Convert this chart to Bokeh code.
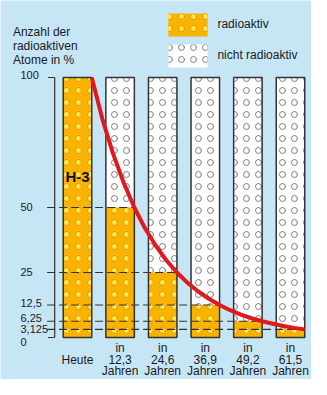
from bokeh.plotting import figure
from bokeh.models import Range1d, Legend, LegendItem, ColumnDataSource
from bokeh.core.properties import value
from bokeh.embed import file_html
from bokeh.resources import INLINE

# ---------------- data ----------------
bar_labels = ["Heute", "in\n12,3\nJahren", "in\n24,6\nJahren",
              "in\n36,9\nJahren", "in\n49,2\nJahren", "in\n61,5\nJahren"]
years = [0, 12.3, 24.6, 36.9, 49.2, 61.5]
radioactive_pct = [100, 50, 25, 12.5, 6.25, 3.125]
total_pct = [100, 100, 100, 100, 100, 100]
half_life = 12.3

y_ticks = [0, 3.125, 6.25, 12.5, 25, 50, 100]
y_tick_labels = ["0", "3,125", "6,25", "12,5", "25", "50", "100"]

# decay curve (years, % radioactive)
curve_years = [0, 3.075, 6.15, 9.225, 12.3, 15.375, 18.45, 21.525, 24.6, 27.675,
               30.75, 33.825, 36.9, 39.975, 43.05, 46.125, 49.2, 52.275, 55.35,
               58.425, 61.5]
curve_pct = [100, 84, 70.7, 59.5, 50, 42, 35.4, 29.7, 25, 21, 17.7, 14.9, 12.5,
             10.5, 8.8, 7.4, 6.25, 5.3, 4.4, 3.7, 3.125]

isotope = "H-3"
y_title = ["Anzahl der", "radioaktiven", "Atome in %"]
legend_labels = ["radioaktiv", "nicht radioaktiv"]

# ---------------- layout / style ----------------
W, H = 311, 379
PX_X = 42.6      # pixels per bar slot
X0_PX = 77       # pixel x of first bar centre
PX_Y = 2.60      # pixels per percent
Y0_PX = 337.0    # pixel y (from top) of 0 %
BAR_W = 28.5 / PX_X

def dx(px):
    return (px - X0_PX) / PX_X

def dy(py):
    return (Y0_PX - py) / PX_Y

BG = "#c6e6f6"
ORANGE = "#f8b400"
DOT = "#ffec3d"
RING = "#f08a1e"
GREY_RING = "#7a7a7a"
OUTLINE = "#333333"
RED = "#e3171e"
TXT = "#1a1a1a"
FONT_NAME = "Liberation Sans"
FONT = value(FONT_NAME)
HATCH_SCALE = 12

label_nudge = [4, 0, -3, -2, -1, -1, -3]   # px nudges of y labels
XLAB_LINE = 11.6                          # px between lines of x labels
XLAB_BASE = 10.5                          # px from 0-line to first baseline
TITLE_BASE = 31.5
TITLE_LINE = 14.0

p = figure(width=W, height=H, output_backend="svg", toolbar_location=None,
           x_range=Range1d(dx(0), dx(W)), y_range=Range1d(dy(H), dy(0)),
           min_border=0, min_border_left=0, min_border_right=0,
           min_border_top=0, min_border_bottom=0)
p.axis.visible = False
p.grid.visible = False
p.outline_line_color = None
p.background_fill_color = BG
p.border_fill_color = BG

xs = list(range(len(bar_labels)))
src = ColumnDataSource(dict(x=xs, total=total_pct, radio=radioactive_pct))

# white (non radioactive) bars
white = p.vbar(x="x", top="total", bottom=0, width=BAR_W, source=src,
               fill_color="white", line_color=None,
               hatch_pattern="ring", hatch_color=GREY_RING, hatch_scale=HATCH_SCALE,
               hatch_weight=1)
# radioactive part
yfill = p.vbar(x="x", top="radio", bottom=0, width=BAR_W, source=src,
               fill_color=ORANGE, line_color=None,
               hatch_pattern="dot", hatch_color=DOT, hatch_scale=HATCH_SCALE)
yring = p.vbar(x="x", top="radio", bottom=0, width=BAR_W, source=src,
               fill_color=None, line_color=None,
               hatch_pattern="ring", hatch_color=RING, hatch_scale=HATCH_SCALE,
               hatch_weight=1)
# outlines
p.vbar(x="x", top="total", bottom=0, width=BAR_W, source=src,
       fill_color=None, line_color=OUTLINE, line_width=1.5)
legend_outline = p.vbar(x=[], top=[], bottom=0, width=BAR_W,
                        fill_color=None, line_color=OUTLINE, line_width=1.5)

# dashed guide lines from the axis to each halved bar
x_dash_start = dx(46.6)
lvl_x1 = [k + BAR_W / 2 for k in xs[1:]]
p.segment(x0=[x_dash_start] * len(lvl_x1), y0=radioactive_pct[1:],
          x1=lvl_x1, y1=radioactive_pct[1:],
          line_color=OUTLINE, line_width=1.2, line_dash="8 4")

# axis bracket
x_axis = dx(54.2)
x_tick = dx(47.5)
p.segment(x0=[x_axis], y0=[0], x1=[x_axis], y1=[100], line_color=OUTLINE, line_width=1.2)
p.segment(x0=[x_tick, x_tick], y0=[0, 100], x1=[x_axis, x_axis], y1=[0, 100],
          line_color=OUTLINE, line_width=1.2)

# decay curve
curve_x = [BAR_W / 2 + t / half_life for t in curve_years]
p.line(curve_x, curve_pct, line_color=RED, line_width=4, line_join="round")

# y labels
p.text(x=[dx(20)] * len(y_ticks), y=y_ticks, text=y_tick_labels,
       y_offset=label_nudge, text_font=FONT, text_font_size="11px",
       text_color=TXT, text_align="left", text_baseline="middle")

# x labels, one row per text line (single-line labels sit on the middle line)
lx, ltxt, loff = [], [], []
for k, lab in enumerate(bar_labels):
    lines = lab.split("\n")
    start = 0 if len(lines) == 3 else 1
    for i, ln in enumerate(lines):
        lx.append(k)
        ltxt.append(ln)
        loff.append(XLAB_BASE + (start + i) * XLAB_LINE)
p.text(x=lx, y=[0] * len(lx), text=ltxt, y_offset=loff,
       text_font=FONT, text_font_size="12px", text_color=TXT,
       text_align="center", text_baseline="alphabetic")

# title (y axis caption)
p.text(x=[dx(12.4)] * 3, y=[dy(TITLE_BASE + i * TITLE_LINE) for i in range(3)],
       text=y_title, text_font=FONT, text_font_size="12px", text_color=TXT,
       text_align="left", text_baseline="alphabetic")

# isotope label
p.text(x=[0], y=[dy(175.5)], text=[isotope], text_font=FONT,
       text_font_size="15px", text_font_style="bold", text_color="#111111",
       text_align="center", text_baseline="middle")

legend = Legend(items=[LegendItem(label=legend_labels[0], renderers=[yfill, yring, legend_outline]),
                       LegendItem(label=legend_labels[1], renderers=[white, legend_outline])],
                location=(163.4, 309.4), orientation="vertical",
                glyph_width=49, glyph_height=29, label_height=29, spacing=2,
                padding=0, margin=0, label_standoff=5,
                border_line_color=None, background_fill_alpha=0,
                label_text_font=FONT_NAME, label_text_font_size="12px",
                label_text_color=TXT)
p.add_layout(legend)

open("out.html", "w").write(file_html(p, INLINE))
